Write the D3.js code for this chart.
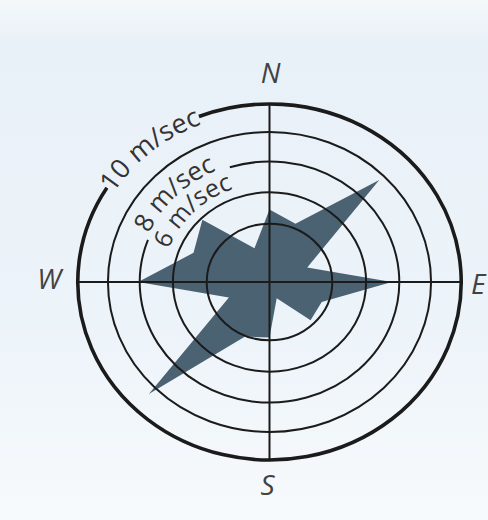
<!DOCTYPE html>
<html>
<head>
<meta charset="utf-8">
<script src="https://cdn.jsdelivr.net/npm/d3@7"></script>
<style>
  body { margin: 0; background: #eef4f9; }
  svg { display: block; }
  .ring { fill: none; stroke: #1b1b1b; stroke-width: 2; }
  .outer { stroke-width: 3.6; }
  .axis-line { stroke: #1b1b1b; stroke-width: 2; }
  .speed-label { font-family: "Open Sans", sans-serif; font-weight: 500; fill: #333333; }
  .compass { font-family: "Open Sans", sans-serif; font-style: italic; font-size: 28px; fill: #424242; }
</style>
</head>
<body>
<div id="chart"></div>
<script>
// ---------------------------------------------------------------------------//
// Data
// ---------------------------------------------------------------------------//
const directions = ["N", "NNE", "NE", "ENE", "E", "ESE", "SE", "SSE",
                    "S", "SSW", "SW", "WSW", "W", "WNW", "NW", "NNW"];
// wind speed per direction, m/sec
const speeds = [2.9, 2.3, 7.6, 1.3, 5.55, 1.8, 1.85, 0.6,
                1.9, 2.05, 8.6, 1.4, 6.1, 3.15, 3.9, 1.25];
const rings = [2, 4, 6, 8, 10];
const ringLabels = [
  { value: 10, text: "10 m/sec" },
  { value: 8, text: "8 m/sec" },
  { value: 6, text: "6 m/sec" },
];
const compassPoints = ["N", "E", "S", "W"];

// ---------------------------------------------------------------------------//
// Layout
// ---------------------------------------------------------------------------//
const width = 488;
const height = 520;
const cx = 269.5;
const cy = 282;
const kx = 1.077; // the rose is drawn slightly wider than tall

// radial scale (vertical semi-axis in px)
const rScale = d3.scaleLinear()
  .domain([0, 2, 4, 6, 8, 10])
  .range([0, 58.3, 89.7, 120.5, 150, 178]);

const angle = d3.scalePoint()
  .domain(directions)
  .range([0, 360 - 360 / directions.length]);

const rad = (deg) => (deg * Math.PI) / 180;

function pt(deg, r) {
  return [cx + r * kx * Math.sin(rad(deg)), cy - r * Math.cos(rad(deg))];
}

// clockwise elliptical arc from a0 to a1 (degrees, compass)
function arcPath(a0, a1, r) {
  const [x0, y0] = pt(a0, r);
  const [x1, y1] = pt(a1, r);
  const large = a1 - a0 > 180 ? 1 : 0;
  return `M${x0},${y0}A${r * kx},${r} 0 ${large} 1 ${x1},${y1}`;
}

const svg = d3.select("#chart")
  .append("svg")
  .attr("width", width)
  .attr("height", height);

const defs = svg.append("defs");
const bg = defs.append("linearGradient")
  .attr("id", "bg")
  .attr("x1", 0).attr("y1", 0).attr("x2", 0).attr("y2", 1);
bg.append("stop").attr("offset", "0%").attr("stop-color", "#f4f8fb");
bg.append("stop").attr("offset", "8%").attr("stop-color", "#e9f1f8");
bg.append("stop").attr("offset", "60%").attr("stop-color", "#ecf3f9");
bg.append("stop").attr("offset", "100%").attr("stop-color", "#f7fafc");

svg.append("rect")
  .attr("width", width)
  .attr("height", height)
  .attr("fill", "url(#bg)");

// ---------------------------------------------------------------------------//
// Wind polygon
// ---------------------------------------------------------------------------//
const line = d3.line().curve(d3.curveLinearClosed);
svg.append("path")
  .attr("d", line(directions.map((d, i) => pt(angle(d), rScale(speeds[i])))))
  .attr("fill", "#4a6272");

// ---------------------------------------------------------------------------//
// Rings (outer and 6 m/sec rings leave a gap for their labels)
// ---------------------------------------------------------------------------//
const gaps = { 10: [-58, -21.6], 6: [-69.5, -17.8] };

rings.forEach((v) => {
  const r = rScale(v);
  const cls = v === 10 ? "ring outer" : "ring";
  if (gaps[v]) {
    const [g0, g1] = gaps[v];
    svg.append("path").attr("class", cls).attr("d", arcPath(g1, g0 + 360, r));
  } else {
    svg.append("ellipse").attr("class", cls)
      .attr("cx", cx).attr("cy", cy)
      .attr("rx", r * kx).attr("ry", r);
  }
});

// cross lines
const R = rScale(10);
svg.append("line").attr("class", "axis-line")
  .attr("x1", cx).attr("x2", cx).attr("y1", cy - R).attr("y2", cy + R);
svg.append("line").attr("class", "axis-line")
  .attr("x1", cx - R * kx).attr("x2", cx + R * kx).attr("y1", cy).attr("y2", cy);

// ---------------------------------------------------------------------------//
// Speed labels along the rings
// ---------------------------------------------------------------------------//
const labelPos = {
  10: { base: 170, mid: -41, size: 27 },
  8: { base: 122, mid: -46, size: 26 },
  6: { base: 99, mid: -46, size: 25 },
};

ringLabels.forEach((d, i) => {
  const p = labelPos[d.value];
  const id = `lab${i}`;
  defs.append("path")
    .attr("id", id)
    .attr("d", arcPath(p.mid - 45, p.mid + 45, p.base));
  svg.append("text")
    .attr("class", "speed-label")
    .attr("font-size", p.size)
    .append("textPath")
    .attr("href", `#${id}`)
    .attr("startOffset", "50%")
    .attr("text-anchor", "middle")
    .text(d.text);
});

// ---------------------------------------------------------------------------//
// Compass letters
// ---------------------------------------------------------------------------//
const compassPos = {
  N: { x: cx + 1, y: 83, anchor: "middle" },
  E: { x: 471, y: 294, anchor: "start" },
  S: { x: cx - 2, y: 495, anchor: "middle" },
  W: { x: 61, y: 289, anchor: "end" },
};

svg.selectAll("text.compass")
  .data(compassPoints)
  .join("text")
  .attr("class", "compass")
  .attr("x", (d) => compassPos[d].x)
  .attr("y", (d) => compassPos[d].y)
  .attr("text-anchor", (d) => compassPos[d].anchor)
  .text((d) => d);
</script>
</body>
</html>
